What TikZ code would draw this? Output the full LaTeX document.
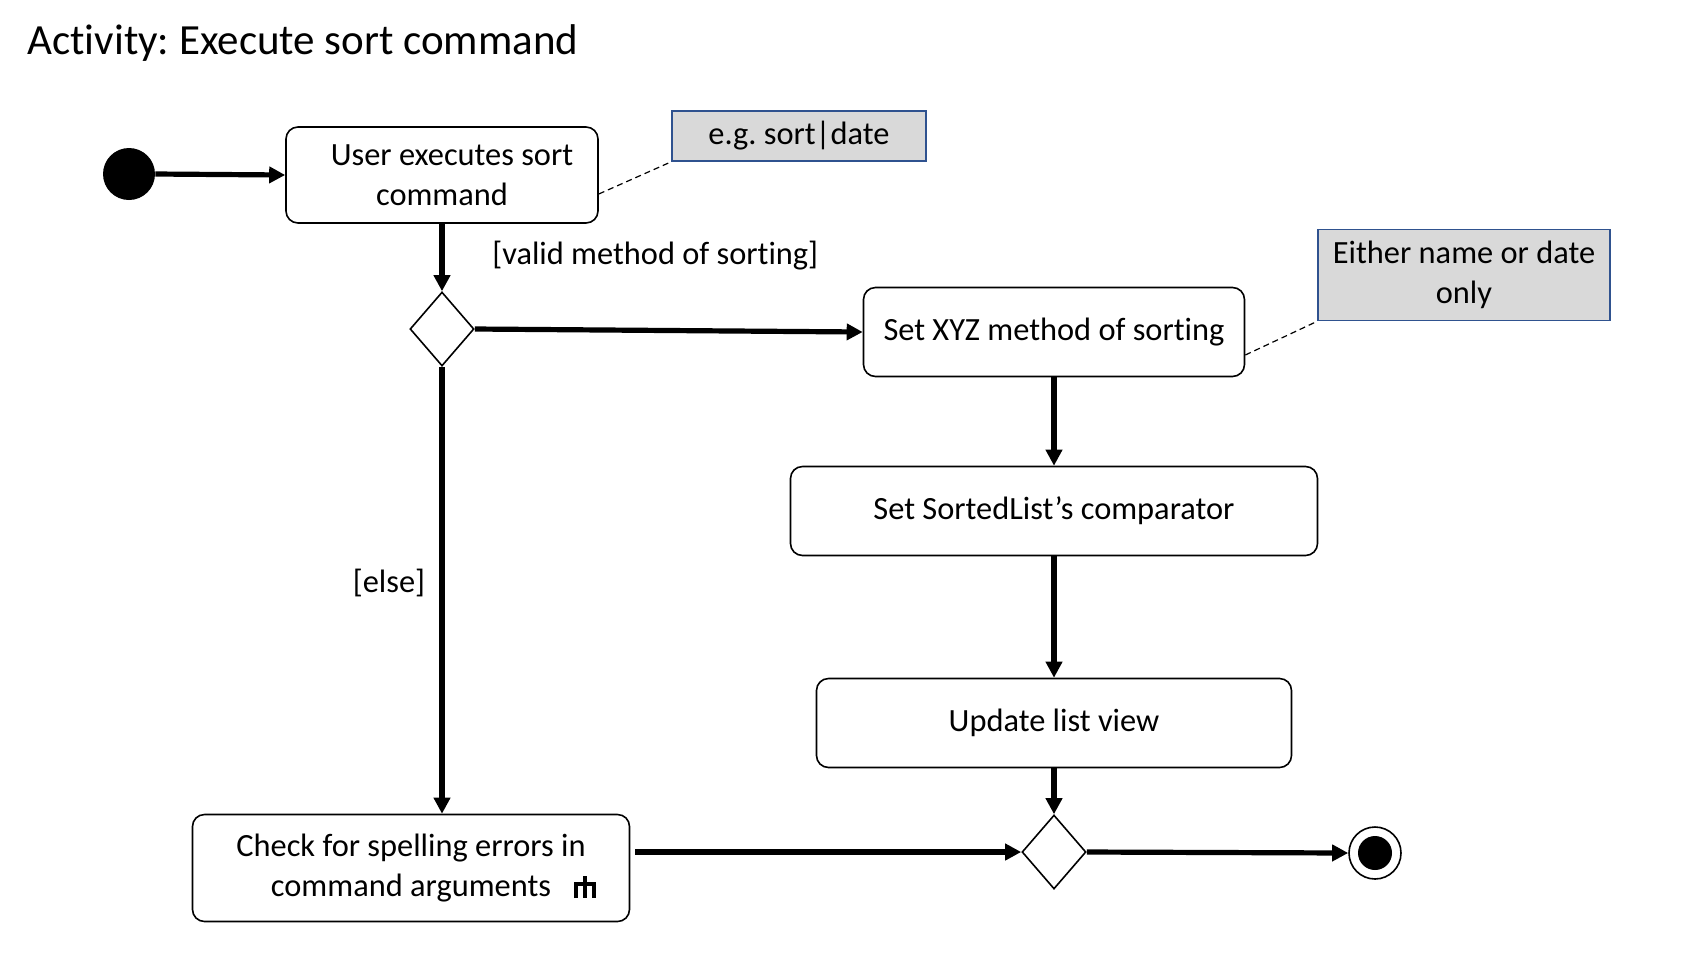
\documentclass[tikz,border=0pt]{standalone}
\usepackage{fontspec}
\setmainfont{Carlito}[Ligatures=NoCommon]
\usetikzlibrary{shapes.geometric,arrows.meta,calc}
\definecolor{noteblue}{RGB}{47,82,143}
\definecolor{notegray}{RGB}{217,217,217}
\frenchspacing
\begin{document}
\begin{tikzpicture}[x=0.5pt,y=-0.5pt,
  act/.style={draw,line width=0.8pt,rounded corners=6pt,align=center,font=\fontsize{16.2}{20}\selectfont,inner sep=0pt},
  note/.style={draw=noteblue,line width=0.8pt,fill=notegray,align=center,font=\fontsize{16.2}{20}\selectfont,inner sep=0pt},
  dec/.style={draw,diamond,line width=0.8pt,minimum width=32pt,minimum height=37pt,inner sep=0pt,fill=white},
  flow/.style={line width=2.6pt,-{Triangle[length=8pt,width=8pt]}},
  guard/.style={font=\fontsize{16.2}{20}\selectfont},
  link/.style={densely dashed,line width=0.6pt},
  rake/.style={line width=1.6pt}]
\useasboundingbox (0,0) rectangle (1686,966);
\node[anchor=west,font=\fontsize{21.5}{25}\selectfont,inner sep=0pt] (title) at (27,43) {Activity: Execute sort command};
\node[circle,fill=black,minimum size=26pt,inner sep=0pt] (start) at (129,174) {};
\node[act,minimum width=156pt,minimum height=48pt] (user) at (442,175) {\hspace*{10pt}User executes sort\\command};
\node[note,minimum width=127pt,minimum height=25pt] (n1) at (799,136) {e.g. sort|date};
\node[dec] (d1) at (442,329) {};
\node[act,minimum width=190.5pt,minimum height=44.5pt] (setxyz) at (1054,332) {Set XYZ method of sorting};
\node[note,minimum width=146pt,minimum height=45.5pt] (n2) at (1464,275) {Either name or date\\only};
\node[act,minimum width=263.5pt,minimum height=44.5pt] (comp) at (1054,511) {Set SortedList’s comparator};
\node[act,minimum width=237.5pt,minimum height=44.5pt] (upd) at (1054,723) {Update list view};
\node[act,minimum width=218.5pt,minimum height=53.5pt] (check) at (411,868) {Check for spelling errors in\\command arguments};
\node[dec] (d2) at (1054,852) {};
\node[circle,draw,line width=0.8pt,minimum size=26pt,inner sep=0pt] (end) at (1375,853) {};
\node[circle,fill=black,minimum size=17pt,inner sep=0pt] (endin) at (end.center) {};
\node[guard,anchor=west,inner sep=0pt] (gvalid) at (492,256) {[valid method of sorting]};
\node[guard] (gelse) at (389,583) {[else]};
% rake icon
\draw[rake] (585,876) -- (585,898);
\draw[rake] (576,898) -- (576,884) -- (594,884) -- (594,898);
% connectors
\draw[flow] (start.east) -- (user.west);
\draw[flow] (user.south) -- (d1.north);
\draw[flow] (d1.east) -- (setxyz.west);
\draw[flow] (setxyz.south) -- (comp.north);
\draw[flow] (comp.south) -- (upd.north);
\draw[flow] (upd.south) -- (d2.north);
\draw[flow] (d1.south) -- (d1.south |- check.north);
\coordinate (cstart) at ($(check.east)+(5,-16)$);
\draw[flow] (cstart) -- (d2.west);
\draw[flow] (d2.east) -- (end.west);
\draw[link] ($(user.east)+(0,19)$) -- (n1.south west);
\draw[link] ($(setxyz.east)+(0,23)$) -- (n2.south west);
\end{tikzpicture}
\end{document}
